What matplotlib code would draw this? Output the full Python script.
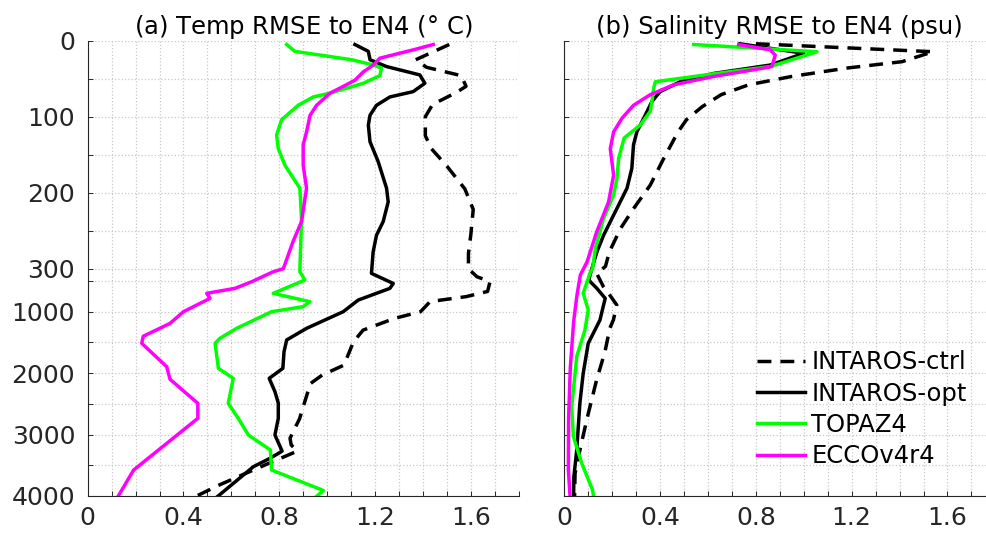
import numpy as np
import matplotlib.pyplot as plt

# ---- data (depth in m, RMSE values) ----
# (a) temperature
ctrl_T_z = [5, 25, 35, 46, 60, 68, 84, 100, 125, 142, 165, 195, 222, 255, 280, 300,
            430, 510, 670, 755, 835, 1000, 1110, 1300, 1490, 1870, 2030, 2170, 2360,
            2740, 3060, 3170, 3270, 3580, 3820, 4000]
ctrl_T = [1.51, 1.37, 1.415, 1.56, 1.58, 1.54, 1.44, 1.41, 1.41, 1.435, 1.50, 1.575,
          1.61, 1.60, 1.59, 1.59, 1.625, 1.68, 1.67, 1.58, 1.43, 1.39, 1.28, 1.15, 1.11,
          1.07, 0.98, 0.93, 0.915, 0.885, 0.845, 0.85, 0.875, 0.69, 0.55, 0.455]

opt_T_z = [5, 14, 25, 34, 45, 56, 67, 74, 85, 98, 111, 133, 159, 194, 212, 238, 256,
           278, 376, 540, 620, 810, 1000, 1271, 1460, 1650, 1922, 2085, 2302, 2487,
           2736, 3007, 3270, 3387, 3523, 4000]
opt_T = [1.116, 1.172, 1.179, 1.248, 1.387, 1.408, 1.359, 1.262, 1.206, 1.179, 1.172,
         1.179, 1.213, 1.248, 1.255, 1.234, 1.206, 1.192, 1.185, 1.276, 1.262, 1.130,
         1.067, 0.914, 0.831, 0.82, 0.815, 0.758, 0.782, 0.796, 0.796, 0.782, 0.812,
         0.761, 0.692, 0.545]

topaz_T_z = [5, 14, 25, 32, 36, 46, 56, 69, 74, 85, 104, 124, 142, 164, 194, 234, 349,
             484, 620, 701, 837, 918, 1000, 1271, 1434, 1515, 1922, 2085, 2492, 2736,
             3007, 3251, 3577, 3910, 4000]
topaz_T = [0.831, 0.865, 1.102, 1.193, 1.227, 1.220, 1.151, 1.012, 0.942, 0.879, 0.810,
           0.789, 0.796, 0.824, 0.886, 0.893, 0.886, 0.907, 0.824, 0.775, 0.928, 0.900,
           0.768, 0.622, 0.552, 0.532, 0.546, 0.608, 0.587, 0.629, 0.671, 0.763, 0.768,
           0.984, 0.958]

ecco_T_z = [5, 12, 23, 32, 41, 52, 60, 69, 85, 98, 120, 137, 164, 194, 238, 264, 300,
            349, 512, 620, 701, 783, 1000, 1190, 1400, 1515, 1895, 2100, 2491, 2736,
            3577, 4000]
ecco_T = [1.443, 1.360, 1.220, 1.193, 1.151, 1.116, 1.068, 1.012, 0.956, 0.929, 0.914,
          0.900, 0.900, 0.914, 0.893, 0.858, 0.817, 0.775, 0.685, 0.615, 0.497, 0.511,
          0.400, 0.344, 0.232, 0.226, 0.330, 0.344, 0.460, 0.460, 0.192, 0.128]

# (b) salinity
ctrl_S_z = [4, 14.5, 27.6, 36, 47, 58, 71, 87, 104, 120, 155, 190, 221, 247, 278, 297,
            375, 590, 730, 890, 1135, 1270, 1650, 2110, 2740, 3220, 3630, 4000]
ctrl_S = [0.80, 1.54, 1.41, 1.18, 0.95, 0.77, 0.655, 0.575, 0.51, 0.475, 0.415, 0.359,
          0.289, 0.235, 0.188, 0.172, 0.135, 0.163, 0.19, 0.219, 0.205, 0.19, 0.17,
          0.135, 0.095, 0.067, 0.045, 0.043]

opt_S_z = [4, 16.6, 32, 43, 54, 67, 80, 98, 120, 137, 168, 194, 225, 256, 278, 300,
           485, 620, 783, 891, 1135, 1515, 2003, 2491, 3251, 3690, 4000]
opt_S = [0.733, 1.0, 0.86, 0.625, 0.484, 0.40, 0.366, 0.338, 0.303, 0.289, 0.282,
         0.262, 0.213, 0.164, 0.136, 0.115, 0.102, 0.136, 0.171, 0.164, 0.149, 0.100,
         0.079, 0.065, 0.052, 0.040, 0.039]

topaz_S_z = [5, 14.5, 34, 43, 54, 63, 80, 93, 111, 128, 155, 181, 203, 234, 273, 300,
             375, 700, 972, 1300, 1730, 2550, 3035, 3470, 3900, 4000]
topaz_S = [0.54, 1.055, 0.86, 0.637, 0.38, 0.373, 0.366, 0.359, 0.317, 0.25, 0.227,
           0.22, 0.206, 0.164, 0.13, 0.118, 0.107, 0.079, 0.10, 0.086, 0.052, 0.031,
           0.038, 0.073, 0.118, 0.122]

ecco_S_z = [5, 12, 19, 34, 36, 47, 58, 71, 85, 102, 120, 142, 177, 212, 251, 291, 403,
            729, 1163, 1922, 2736, 3577, 4000]
ecco_S = [0.728, 0.86, 0.881, 0.867, 0.832, 0.624, 0.457, 0.359, 0.289, 0.241, 0.206,
          0.192, 0.206, 0.185, 0.136, 0.095, 0.067, 0.053, 0.039, 0.025, 0.018, 0.017,
          0.024]

ytick_vals = [0, 50, 100, 150, 200, 250, 300, 500, 1000, 1500, 2000, 2500, 3000, 3500, 4000]
ytick_labels = ['0', '', '100', '', '200', '', '300', '', '1000', '', '2000', '', '3000', '', '4000']
xtick_vals = np.round(np.arange(0, 1.81, 0.1), 1)
xtick_labels = [('%g' % v if round(v * 10) % 4 == 0 else '') for v in xtick_vals]


# depth axis: stretched above 300 m, compressed below
def fwd(d):
    d = np.asarray(d, dtype=float)
    return np.where(d <= 300, d * 0.76, 228 + (d - 300) * 0.061432)


def inv(y):
    y = np.asarray(y, dtype=float)
    return np.where(y <= 228, y / 0.76, 300 + (y - 228) / 0.061432)


plt.rcParams['font.family'] = 'DejaVu Sans'
fig = plt.figure(figsize=(9.86, 5.35), dpi=100)
ax1 = fig.add_axes([0.0889, 0.0729, 0.4372, 0.851])
ax2 = fig.add_axes([0.5723, 0.0729, 0.4372, 0.851])

lw = 2.5
dash = (0, (4, 2.6))
green = '#00ff00'
magenta = '#ff00ff'

ax1.plot(ctrl_T, ctrl_T_z, color='k', lw=lw, ls=dash)
ax1.plot(opt_T, opt_T_z, color='k', lw=lw)
ax1.plot(topaz_T, topaz_T_z, color=green, lw=lw)
ax1.plot(ecco_T, ecco_T_z, color=magenta, lw=lw)

ax2.plot(ctrl_S, ctrl_S_z, color='k', lw=lw, ls=dash, label='INTAROS-ctrl')
ax2.plot(opt_S, opt_S_z, color='k', lw=lw, label='INTAROS-opt')
ax2.plot(topaz_S, topaz_S_z, color=green, lw=lw, label='TOPAZ4')
ax2.plot(ecco_S, ecco_S_z, color=magenta, lw=lw, label='ECCOv4r4')

for ax in (ax1, ax2):
    ax.set_yscale('function', functions=(fwd, inv))
    ax.set_ylim(4000, 0)
    ax.set_xlim(0, 1.8)
    ax.set_yticks(ytick_vals)
    ax.set_xticks(xtick_vals)
    ax.set_xticklabels(xtick_labels)
    ax.minorticks_off()
    ax.grid(True, color='#c8c8c8', linestyle=':', linewidth=0.9)
    ax.set_axisbelow(True)
    for s in ('top', 'right'):
        ax.spines[s].set_visible(False)
    for s in ('left', 'bottom'):
        ax.spines[s].set_color('#262626')
        ax.spines[s].set_linewidth(0.8)
    ax.tick_params(direction='in', length=3.5, width=0.7, colors='#262626',
                   labelsize=18)
    ax.tick_params(axis='x', pad=7)
    ax.tick_params(axis='y', pad=9)

ax1.set_yticklabels(ytick_labels)
ax2.set_yticklabels([])

ax1.set_title('(a) Temp RMSE to EN4 ($\\degree$ C)', fontsize=17.5, pad=5)
ax2.set_title('(b) Salinity RMSE to EN4 (psu)', fontsize=17.5, pad=5)

ax2.legend(loc='upper left', bbox_to_anchor=(0.446, 0.32), frameon=False,
           fontsize=17.5, handlelength=2.0, handletextpad=0.25, labelspacing=0.3,
           borderpad=0, borderaxespad=0)

fig.savefig('out.png', dpi=100)
